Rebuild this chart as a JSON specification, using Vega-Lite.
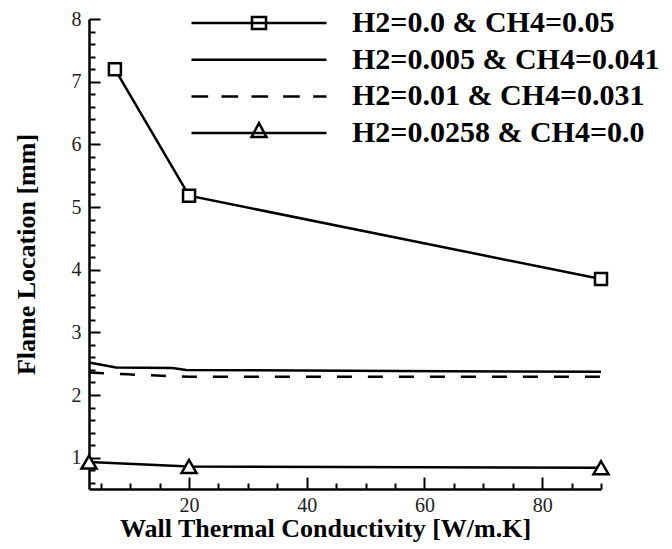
{
  "$schema": "https://vega.github.io/schema/vega-lite/v6.json",
  "width": 512,
  "height": 470,
  "autosize": {"type": "none"},
  "padding": {"left": 89, "top": 19, "right": 71, "bottom": 60},
  "background": "white",
  "config": {
    "view": {"stroke": null},
    "font": "Liberation Serif",
    "axis": {
      "grid": false,
      "domainColor": "black",
      "domainWidth": 2.5,
      "tickColor": "black",
      "tickWidth": 2,
      "labelFont": "Liberation Serif",
      "labelFontSize": 20,
      "labelColor": "#222",
      "titleFont": "Liberation Serif",
      "titleFontWeight": "bold",
      "titleFontSize": 26,
      "titleColor": "black"
    }
  },
  "data": {
    "values": [
      {"series": "H2=0.0 & CH4=0.05", "k": 7.4, "loc": 7.2},
      {"series": "H2=0.0 & CH4=0.05", "k": 20, "loc": 5.18},
      {"series": "H2=0.0 & CH4=0.05", "k": 90, "loc": 3.85},
      {"series": "H2=0.005 & CH4=0.041", "k": 3, "loc": 2.52},
      {"series": "H2=0.005 & CH4=0.041", "k": 7.6, "loc": 2.44},
      {"series": "H2=0.005 & CH4=0.041", "k": 17.2, "loc": 2.43},
      {"series": "H2=0.005 & CH4=0.041", "k": 19.5, "loc": 2.4},
      {"series": "H2=0.005 & CH4=0.041", "k": 63.7, "loc": 2.38},
      {"series": "H2=0.005 & CH4=0.041", "k": 90, "loc": 2.37},
      {"series": "H2=0.01 & CH4=0.031", "k": 3, "loc": 2.36},
      {"series": "H2=0.01 & CH4=0.031", "k": 9.5, "loc": 2.33},
      {"series": "H2=0.01 & CH4=0.031", "k": 14.5, "loc": 2.31},
      {"series": "H2=0.01 & CH4=0.031", "k": 20, "loc": 2.29},
      {"series": "H2=0.01 & CH4=0.031", "k": 90, "loc": 2.29},
      {"series": "H2=0.0258 & CH4=0.0", "k": 3, "loc": 0.93},
      {"series": "H2=0.0258 & CH4=0.0", "k": 20, "loc": 0.86},
      {"series": "H2=0.0258 & CH4=0.0", "k": 90, "loc": 0.84}
    ]
  },
  "encoding": {
    "x": {
      "field": "k",
      "type": "quantitative",
      "scale": {"domain": [3, 90], "nice": false, "zero": false},
      "axis": {
        "title": "Wall Thermal Conductivity [W/m.K]",
        "values": [5, 10, 15, 20, 25, 30, 35, 40, 45, 50, 55, 60, 65, 70, 75, 80, 85, 90],
        "labelExpr": "datum.value % 20 === 0 ? datum.label : ''",
        "tickSize": {"condition": {"test": "datum.value % 20 === 0", "value": -12}, "value": -6},
        "labelPadding": 18,
        "labelFlush": false,
        "labelOverlap": false,
        "titleX": 236,
        "titleY": 26,
        "titleBaseline": "top"
      }
    },
    "y": {
      "field": "loc",
      "type": "quantitative",
      "scale": {"domain": [0.5, 8], "nice": false, "zero": false},
      "axis": {
        "title": "Flame Location [mm]",
        "values": [0.6, 0.8, 1, 1.2, 1.4, 1.6, 1.8, 2, 2.2, 2.4, 2.6, 2.8, 3, 3.2, 3.4, 3.6, 3.8, 4, 4.2, 4.4, 4.6, 4.8, 5, 5.2, 5.4, 5.6, 5.8, 6, 6.2, 6.4, 6.6, 6.8, 7, 7.2, 7.4, 7.6, 7.8, 8],
        "labelExpr": "abs(datum.value - round(datum.value)) < 0.01 ? format(datum.value, 'd') : ''",
        "tickSize": {"condition": {"test": "abs(datum.value - round(datum.value)) < 0.01", "value": -11}, "value": -6},
        "labelPadding": 19,
        "labelFlush": false,
        "labelOverlap": false,
        "titleX": -63,
        "titleY": 235,
        "titleAngle": 270,
        "titleAlign": "center",
        "titleBaseline": "middle"
      }
    }
  },
  "layer": [
    {
      "transform": [{"filter": "datum.series !== 'H2=0.01 & CH4=0.031'"}],
      "mark": {"type": "line", "color": "black", "strokeWidth": 2.5},
      "encoding": {"detail": {"field": "series"}}
    },
    {
      "transform": [{"filter": "datum.series === 'H2=0.01 & CH4=0.031'"}],
      "mark": {"type": "line", "color": "black", "strokeWidth": 2.5, "strokeDash": [15, 16]},
      "encoding": {}
    },
    {
      "transform": [{"filter": "datum.series === 'H2=0.0 & CH4=0.05'"}],
      "mark": {"type": "point", "shape": "square", "size": 144, "filled": true, "fill": "white", "stroke": "black", "strokeWidth": 2.5, "opacity": 1}
    },
    {
      "transform": [{"filter": "datum.series === 'H2=0.0258 & CH4=0.0'"}],
      "mark": {"type": "point", "shape": "triangle-up", "size": 225, "filled": true, "fill": "white", "stroke": "black", "strokeWidth": 2.5, "opacity": 1}
    },
    {
      "mark": {"type": "point", "filled": false, "color": "black", "strokeWidth": 2.5, "opacity": 0},
      "encoding": {
        "shape": {
          "field": "series",
          "type": "nominal",
          "scale": {
            "domain": ["H2=0.0 & CH4=0.05", "H2=0.005 & CH4=0.041", "H2=0.01 & CH4=0.031", "H2=0.0258 & CH4=0.0"],
            "range": [
              "M-1,0H1M-0.104,-0.089H0.104V0.089H-0.104Z",
              "M-1,0H1",
              "M-1,0H-0.753M-0.556,0H-0.309M-0.111,0H0.136M0.358,0H0.604M0.803,0H1",
              "M-1,0H1M-0.111,0.059L0,-0.148L0.111,0.059Z"
            ]
          },
          "legend": {
            "title": null,
            "orient": "none",
            "legendX": 101,
            "legendY": -14,
            "padding": 0,
            "offset": 0,
            "symbolSize": 18225,
            "symbolStrokeWidth": 2.5,
            "symbolStrokeColor": "black",
            "symbolFillColor": "transparent",
            "symbolOpacity": 1,
            "clipHeight": 36,
            "rowPadding": 0.7,
            "labelOffset": 24,
            "labelFont": "Liberation Serif",
            "labelFontSize": 30,
            "labelFontWeight": "bold",
            "labelColor": "black",
            "labelLimit": 1000
          }
        }
      }
    }
  ]
}
